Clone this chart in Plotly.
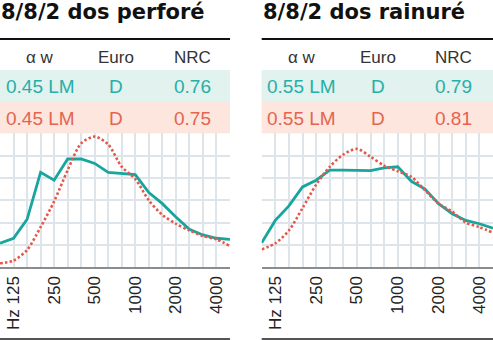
import plotly.graph_objects as go

# ---- data ----
bands = ["100", "125", "160", "200", "250", "315", "400", "500", "630", "800",
         "1000", "1250", "1600", "2000", "2500", "3150", "4000", "5000"]
tick_bands = ["125", "250", "500", "1000", "2000", "4000"]
tick_labels = ["Hz 125", "250", "500", "1000", "2000", "4000"]

perfore_solid = [0.215, 0.26, 0.43, 0.85, 0.78, 0.97, 0.97, 0.93, 0.85, 0.84,
                 0.83, 0.67, 0.57, 0.45, 0.34, 0.29, 0.26, 0.25]
perfore_dot = [0.036, 0.06, 0.155, 0.36, 0.59, 0.87, 1.11, 1.17, 1.10, 0.90,
               0.79, 0.60, 0.47, 0.39, 0.33, 0.28, 0.25, 0.19]
rainure_solid = [0.22, 0.42, 0.55, 0.72, 0.78, 0.87, 0.87, 0.87, 0.865, 0.89,
                 0.90, 0.77, 0.70, 0.57, 0.48, 0.42, 0.39, 0.35]
rainure_dot = [0.16, 0.215, 0.33, 0.53, 0.74, 0.90, 1.01, 1.06, 0.99, 0.91,
               0.86, 0.81, 0.69, 0.57, 0.50, 0.40, 0.36, 0.31]

titles = ["8/8/2 dos perforé", "8/8/2 dos rainuré"]
headers = ["α w", "Euro", "NRC"]
teal_rows = [["0.45 LM", "D", "0.76"], ["0.55 LM", "D", "0.79"]]
red_rows = [["0.45 LM", "D", "0.75"], ["0.55 LM", "D", "0.81"]]

# ---- styles ----
W, H = 493, 340
TEAL = "#17A59D"
TEAL_TXT = "#26AFA8"
RED = "#E4574B"
RED_TXT = "#E4644F"
TEAL_BG = "#E1F2EF"
RED_BG = "#FCE6DE"
GRID = "#DDE5EB"
FONT = "Liberation Sans, Arial, sans-serif"

idx = list(range(len(bands)))
tickvals = [bands.index(b) for b in tick_bands]

panels = [(0.0, 230.0), (261.7, 493.0)]
plot_top, plot_bot = 133.3, 267.3


def px(x):
    return x / W


def py(y):
    return 1 - y / H


fig = go.Figure()
series = [(perfore_solid, perfore_dot), (rainure_solid, rainure_dot)]
for i, (solid, dot) in enumerate(series):
    xa = "x" if i == 0 else "x2"
    ya = "y" if i == 0 else "y2"
    fig.add_trace(go.Scatter(x=idx, y=solid, xaxis=xa, yaxis=ya, mode="lines",
                             line=dict(color=TEAL, width=2.8), hoverinfo="skip"))
    fig.add_trace(go.Scatter(x=idx, y=dot, xaxis=xa, yaxis=ya, mode="lines",
                             line=dict(color=RED, width=2.6, dash="2.5px,2.2px",
                                       shape="spline", smoothing=0.8),
                             hoverinfo="skip"))

xcommon = dict(range=[0, len(bands) - 1], tickvals=tickvals, ticktext=tick_labels,
               tickangle=-90, showgrid=True, gridcolor=GRID, gridwidth=1.5,
               minor=dict(dtick=1, tick0=0, showgrid=True, gridcolor=GRID, gridwidth=1.5),
               showline=True, linecolor="#8C8C8C", linewidth=2, zeroline=False,
               ticks="", tickfont=dict(family=FONT, size=17, color="#222"),
               fixedrange=True)
ycommon = dict(range=[0, 1.2], tickvals=[0.2, 0.4, 0.6, 0.8, 1.0, 1.2], showticklabels=False,
               showgrid=True, gridcolor=GRID, gridwidth=1.5, zeroline=False,
               showline=False, ticks="", fixedrange=True,
               domain=[py(plot_bot), py(plot_top)])

fig.update_layout(
    width=W, height=H, margin=dict(l=0, r=0, t=0, b=0),
    paper_bgcolor="white", plot_bgcolor="white", showlegend=False,
    xaxis=dict(domain=[px(panels[0][0]), px(panels[0][1])], anchor="y", **xcommon),
    xaxis2=dict(domain=[px(panels[1][0]), px(panels[1][1])], anchor="y2", **xcommon),
    yaxis=dict(anchor="x", **ycommon),
    yaxis2=dict(anchor="x2", **ycommon),
)

shapes = []
annotations = []
for i, (x0, x1) in enumerate(panels):
    # colored rows
    shapes.append(dict(type="rect", xref="paper", yref="paper", x0=px(x0), x1=px(x1),
                       y0=py(101), y1=py(70), fillcolor=TEAL_BG, line=dict(width=0), layer="below"))
    shapes.append(dict(type="rect", xref="paper", yref="paper", x0=px(x0), x1=px(x1),
                       y0=py(133.3), y1=py(101), fillcolor=RED_BG, line=dict(width=0), layer="below"))
    # rules
    shapes.append(dict(type="line", xref="paper", yref="paper", x0=px(x0), x1=px(x1),
                       y0=py(39), y1=py(39), line=dict(color="#111", width=2.2)))
    shapes.append(dict(type="line", xref="paper", yref="paper", x0=px(x0), x1=px(x1),
                       y0=py(339), y1=py(339), line=dict(color="#555", width=2)))
    # title
    annotations.append(dict(text=titles[i], xref="paper", yref="paper", x=px(x0 - 1), y=py(12),
                            xanchor="left", yanchor="middle", showarrow=False,
                            font=dict(family="DejaVu Sans, sans-serif", size=21, color="#111", weight=700)))
    cols = [x0 + 40, x0 + 116, x0 + 192]
    for j, cx in enumerate(cols):
        annotations.append(dict(text=headers[j], xref="paper", yref="paper", x=px(cx), y=py(57.3),
                                xanchor="center", yanchor="middle", showarrow=False,
                                font=dict(family=FONT, size=17, color="#333")))
        annotations.append(dict(text=teal_rows[i][j], xref="paper", yref="paper", x=px(cx), y=py(86),
                                xanchor="center", yanchor="middle", showarrow=False,
                                font=dict(family=FONT, size=19, color=TEAL_TXT)))
        annotations.append(dict(text=red_rows[i][j], xref="paper", yref="paper", x=px(cx), y=py(118.3),
                                xanchor="center", yanchor="middle", showarrow=False,
                                font=dict(family=FONT, size=19, color=RED_TXT)))

fig.update_layout(shapes=shapes, annotations=annotations)
fig.write_html("out.html")
